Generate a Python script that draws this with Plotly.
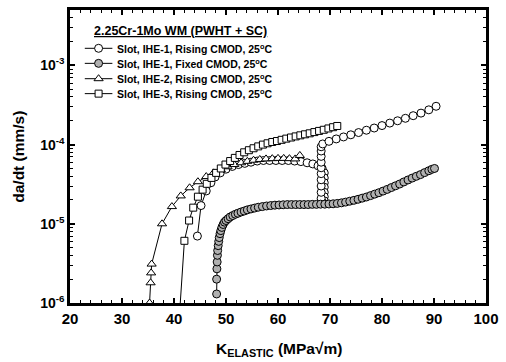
import plotly.graph_objects as go

# IHE-1, rising CMOD (open circles)
c1_x = [44.5, 45.2, 46.2, 47.1, 47.9, 48.9, 50.0, 51.2, 52.4, 53.6, 54.8, 56.0, 57.2, 58.4, 59.6,
        60.8, 62.0, 63.2, 64.4, 65.6, 66.7, 67.7, 68.5, 68.9, 68.9, 68.9, 68.9, 68.9, 68.9, 68.9,
        68.6, 68.3, 68.3, 68.3, 68.3, 68.3, 68.3, 68.3, 68.3, 68.3, 68.3,
        68.6, 69.8, 71.2, 72.6, 74.0, 75.5, 77.0, 78.5, 80.0, 81.5, 83.0, 84.5, 86.0, 87.5, 89.0, 90.4]
c1_y = [7e-6, 1.7e-5, 2.6e-5, 3.3e-5, 3.9e-5, 4.4e-5, 4.9e-5, 5.3e-5, 5.6e-5, 5.8e-5, 6.0e-5, 6.2e-5, 6.3e-5, 6.3e-5, 6.3e-5,
        6.3e-5, 6.3e-5, 6.2e-5, 6.1e-5, 5.9e-5, 5.7e-5, 5.4e-5, 5.0e-5, 4.4e-5, 3.8e-5, 3.3e-5, 2.9e-5, 2.5e-5, 2.2e-5, 1.95e-5,
        1.85e-5, 2.1e-5, 2.5e-5, 3.0e-5, 3.6e-5, 4.3e-5, 5.1e-5, 6.0e-5, 7.1e-5, 8.3e-5, 9.4e-5,
        1.02e-4, 1.1e-4, 1.18e-4, 1.25e-4, 1.33e-4, 1.42e-4, 1.52e-4, 1.62e-4, 1.74e-4, 1.87e-4, 2.0e-4, 2.15e-4, 2.32e-4, 2.5e-4, 2.75e-4, 3.05e-4]

# IHE-1, fixed CMOD (gray circles)
c2_x = [48.2, 48.2, 48.25, 48.3, 48.35, 48.4, 48.5, 48.6, 48.7, 48.85, 49.0, 49.2, 49.45, 49.7, 50.0,
        50.4, 50.8, 51.3, 51.8, 52.3, 52.9, 53.5, 54.1, 54.8, 55.5, 56.2, 57.0, 57.8, 58.6, 59.4,
        60.2, 61.0, 61.8, 62.6, 63.4, 64.2, 65.0, 65.8, 66.6, 67.4, 68.2, 69.0, 69.8, 70.6, 71.4,
        72.2, 73.0, 73.8, 74.6, 75.4, 76.2, 77.0, 77.8, 78.6, 79.4, 80.2, 81.0, 81.8, 82.6, 83.4,
        84.2, 85.0, 85.8, 86.6, 87.4, 88.2, 89.0, 89.6, 90.1]
c2_y = [1.3e-6, 2.0e-6, 2.7e-6, 3.3e-6, 4.0e-6, 4.6e-6, 5.3e-6, 6.0e-6, 6.7e-6, 7.5e-6, 8.2e-6, 9.0e-6, 9.8e-6, 1.05e-5, 1.1e-5,
        1.16e-5, 1.22e-5, 1.27e-5, 1.32e-5, 1.36e-5, 1.41e-5, 1.45e-5, 1.5e-5, 1.54e-5, 1.58e-5, 1.62e-5, 1.65e-5, 1.68e-5, 1.7e-5, 1.72e-5,
        1.73e-5, 1.74e-5, 1.75e-5, 1.75e-5, 1.75e-5, 1.75e-5, 1.75e-5, 1.75e-5, 1.76e-5, 1.76e-5, 1.77e-5, 1.77e-5, 1.78e-5, 1.79e-5, 1.81e-5,
        1.84e-5, 1.88e-5, 1.93e-5, 1.98e-5, 2.04e-5, 2.11e-5, 2.18e-5, 2.27e-5, 2.37e-5, 2.47e-5, 2.59e-5, 2.72e-5, 2.87e-5, 3.02e-5, 3.18e-5,
        3.38e-5, 3.58e-5, 3.78e-5, 3.98e-5, 4.18e-5, 4.43e-5, 4.68e-5, 4.88e-5, 5.0e-5]

# IHE-2, rising CMOD (triangles)
t_x = [35.3, 35.5, 35.6, 35.7, 37.7, 39.6, 41.3, 43.0, 44.6, 46.2, 47.6, 49.0, 50.3, 51.6, 52.9,
       54.1, 55.3, 56.5, 57.7, 58.9, 60.0, 61.1, 62.2, 63.3, 64.2]
t_y = [1.0e-6, 1.8e-6, 2.4e-6, 3.1e-6, 1.0e-5, 1.65e-5, 2.25e-5, 2.85e-5, 3.4e-5, 3.95e-5, 4.4e-5, 4.85e-5, 5.25e-5, 5.6e-5, 5.9e-5,
       6.15e-5, 6.35e-5, 6.5e-5, 6.6e-5, 6.65e-5, 6.7e-5, 6.7e-5, 6.65e-5, 6.6e-5, 7.3e-5]

# IHE-3, rising CMOD (squares)
s_x = [40.9, 42.0, 42.9, 43.7, 44.6, 45.5, 46.3, 47.2, 48.1, 49.0, 49.9, 50.8, 51.7, 52.6, 53.5,
       54.4, 55.3, 56.2, 57.1, 58.0, 58.9, 59.8, 60.7, 61.6, 62.5, 63.4, 64.3, 65.2, 66.1, 67.0,
       67.9, 68.8, 69.7, 70.6, 71.4]
s_y = [5e-7, 6.1e-6, 1.1e-5, 1.6e-5, 2.2e-5, 2.7e-5, 3.2e-5, 3.8e-5, 4.4e-5, 5.0e-5, 5.6e-5, 6.2e-5, 6.8e-5, 7.4e-5, 8.0e-5,
       8.5e-5, 9.0e-5, 9.5e-5, 1.0e-4, 1.04e-4, 1.08e-4, 1.11e-4, 1.15e-4, 1.19e-4, 1.23e-4, 1.27e-4, 1.31e-4, 1.35e-4, 1.39e-4, 1.44e-4,
       1.49e-4, 1.54e-4, 1.6e-4, 1.66e-4, 1.72e-4]

names = ["Slot, IHE-1, Rising CMOD, 25<sup>o</sup>C",
         "Slot, IHE-1, Fixed CMOD, 25<sup>o</sup>C",
         "Slot, IHE-2, Rising CMOD, 25<sup>o</sup>C",
         "Slot, IHE-3, Rising CMOD, 25<sup>o</sup>C"]
legend_title = "2.25Cr-1Mo WM (PWHT + SC)"

x_ticks = [20, 30, 40, 50, 60, 70, 80, 90, 100]
x_minor = [v for v in range(22, 100, 2) if v % 10 != 0]
y_ticks = [1e-6, 1e-5, 1e-4, 1e-3]
y_ticktext = ["10<sup>-6</sup>", "10<sup>-5</sup>", "10<sup>-4</sup>", "10<sup>-3</sup>"]
y_minor = [m * 10.0 ** e for e in range(-6, -2) for m in range(2, 10)]

FONT = "Arial, Liberation Sans, sans-serif"
fig = go.Figure()

series = [
    (c1_x, c1_y, "circle", "white", 8),
    (c2_x, c2_y, "circle", "#b0b0b0", 8),
    (t_x, t_y, "triangle-up", "white", 8),
    (s_x, s_y, "square", "white", 7),
]
for i, (xs, ys, sym, fill, sz) in enumerate(series):
    fig.add_trace(go.Scatter(
        x=xs, y=ys, mode="lines+markers", name=names[i], showlegend=False,
        line=dict(color="black", width=1),
        marker=dict(symbol=sym, size=sz, color=fill, line=dict(color="black", width=1)),
    ))

# Legend drawn in an overlay coordinate system equal to page pixels
leg_rows = [45.7, 60.9, 76.4, 91.5]
for i, (xs, ys, sym, fill, sz) in enumerate(series):
    yy = leg_rows[i]
    fig.add_trace(go.Scatter(x=[85, 113], y=[yy, yy], mode="lines", xaxis="x2", yaxis="y2",
                             line=dict(color="black", width=1), showlegend=False,
                             hoverinfo="skip", cliponaxis=False))
    fig.add_trace(go.Scatter(x=[99], y=[yy], mode="markers", xaxis="x2", yaxis="y2",
                             marker=dict(symbol=sym, size=sz, color=fill, line=dict(color="black", width=1)),
                             showlegend=False, hoverinfo="skip", cliponaxis=False))
    fig.add_annotation(text=names[i], xref="x2", yref="y2", x=115.5, y=yy,
                       xanchor="left", yanchor="middle", showarrow=False,
                       font=dict(family=FONT, size=10.5, weight="bold"))

fig.add_annotation(text="<u>" + legend_title + "</u>", xref="x2", yref="y2",
                   x=92, y=28.5, xanchor="left", yanchor="middle",
                   showarrow=False, font=dict(family=FONT, size=12.5, weight="bold"))

fig.update_layout(
    width=506, height=362,
    margin=dict(l=70, r=14, t=7, b=59),
    paper_bgcolor="white", plot_bgcolor="white",
    font=dict(family=FONT, color="black"),
    showlegend=False,
    xaxis=dict(range=[20, 100], tickvals=x_ticks, ticktext=[str(v) for v in x_ticks],
               ticks="inside", ticklen=5, tickwidth=1.5, tickcolor="black",
               mirror="allticks", showline=True, linewidth=2.5, linecolor="black",
               showgrid=False, zeroline=False,
               tickfont=dict(family=FONT, size=15, weight="bold"),
               minor=dict(tickvals=x_minor, ticks="inside", ticklen=3, tickwidth=1.2, tickcolor="black",
                          showgrid=False)),
    yaxis=dict(type="log", range=[-6, -2.3], tickvals=y_ticks, ticktext=y_ticktext,
               ticks="inside", ticklen=5, tickwidth=1.5, tickcolor="black",
               mirror="allticks", showline=True, linewidth=2.5, linecolor="black",
               showgrid=False, zeroline=False,
               tickfont=dict(family=FONT, size=14, weight="bold"),
               minor=dict(tickvals=y_minor, ticks="inside", ticklen=3, tickwidth=1.2, tickcolor="black",
                          showgrid=False)),
    xaxis2=dict(range=[70, 492], overlaying="x", anchor="y2", visible=False, fixedrange=True),
    yaxis2=dict(range=[303, 7], overlaying="y", anchor="x2", visible=False, fixedrange=True),
)

fig.add_annotation(text="da/dt (mm/s)", xref="paper", yref="paper", textangle=-90,
                   x=(17.5 - 70) / 422, y=0.5, xanchor="center", yanchor="middle",
                   showarrow=False, font=dict(family=FONT, size=15.5, weight="bold"))
fig.add_annotation(text="K<sub>ELASTIC</sub> (MPa√m)", xref="paper", yref="paper",
                   x=(282 - 70) / 422, y=(303 - 350) / 296, xanchor="center", yanchor="middle",
                   showarrow=False, font=dict(family=FONT, size=15.5, weight="bold"))

fig.write_html("out.html", config={"displayModeBar": False},
               post_script="document.body.style.margin='0px';document.body.style.overflow='hidden';")
